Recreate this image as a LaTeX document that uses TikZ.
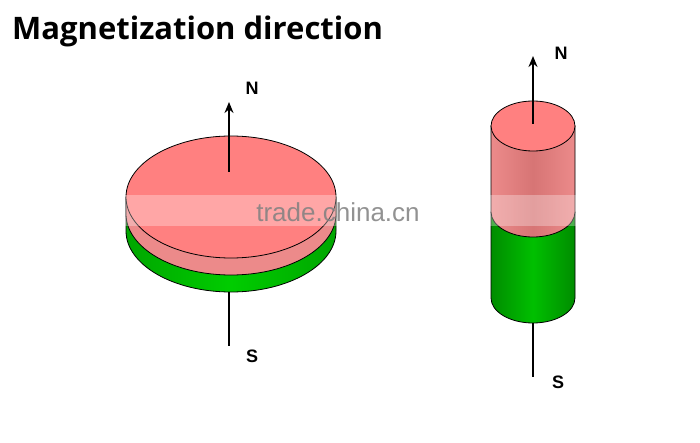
\documentclass[tikz,border=0pt]{standalone}
\usepackage{fontspec}
\setmainfont{Open Sans}
\newfontfamily\wmfont{Liberation Sans}
\usetikzlibrary{arrows.meta}
\begin{document}
\begin{tikzpicture}[x=1pt,y=-1pt,
  edge/.style={draw=black,line width=0.8pt},
  axis/.style={line width=1.8pt},
  pole/.style={font=\wmfont\bfseries\fontsize{18}{18}\selectfont,inner sep=0pt}]
\useasboundingbox (0,0) rectangle (700,443);
\fill[white] (0,0) rectangle (700,443);
\node[anchor=base west,inner sep=0pt,font=\bfseries\fontsize{31}{31}\selectfont] (title) at (12,40) {Magnetization direction};
% disk
\path[edge,left color=green!65!black, right color=green!65!black, middle color=green!80!black] (126,197) -- (126,231) arc[start angle=180,end angle=0,x radius=105,y radius=61] -- (336,197) -- cycle;
\path[edge,fill=red!45!white!85!gray] (126,197) -- (126,214) arc[start angle=180,end angle=0,x radius=105,y radius=61] -- (336,197) -- cycle;
\path[edge,fill=red!50!white] (231,197) ellipse[x radius=105,y radius=61];
\coordinate (dtop) at (229,172);
\coordinate (dN) at (229,102);
\draw[axis,-{Stealth[length=11pt,width=9pt]}] (dtop) -- (dN);
\coordinate (dbot) at (229,292);
\coordinate (dS) at (229,346);
\draw[axis] (dbot) -- (dS);
\node[pole] (n1) at (252,88) {N};
\node[pole] (s1) at (252,356) {S};
% cylinder
\path[edge,left color=green!55!black,right color=green!55!black,middle color=green!75!black] (491,212) -- (491,298) arc[start angle=180,end angle=0,x radius=42,y radius=25] -- (575,212) -- cycle;
\path[edge,left color=red!45!white!85!gray,right color=red!45!white!85!gray,middle color=red!55!gray!70!white] (491,126) -- (491,212) arc[start angle=180,end angle=0,x radius=42,y radius=25] -- (575,126) -- cycle;
\path[edge,fill=red!50!white] (533,126) ellipse[x radius=42,y radius=25];
\coordinate (ctop) at (533,124);
\coordinate (cN) at (533,56);
\draw[axis,-{Stealth[length=11pt,width=9pt]}] (ctop) -- (cN);
\coordinate (cbot) at (533,323);
\coordinate (cS) at (533,377);
\draw[axis] (cbot) -- (cS);
\node[pole] (n2) at (561,53) {N};
\node[pole] (s2) at (558,382) {S};
% watermark
\fill[white,opacity=0.3] (118,195) rectangle (345,226);
\fill[white,opacity=0.3] (485,195) rectangle (583,226);
\node[text=gray,opacity=0.85,font=\wmfont\fontsize{26}{26}\selectfont,inner sep=0pt] (wm) at (338,212) {trade.china.cn};
\end{tikzpicture}
\end{document}
